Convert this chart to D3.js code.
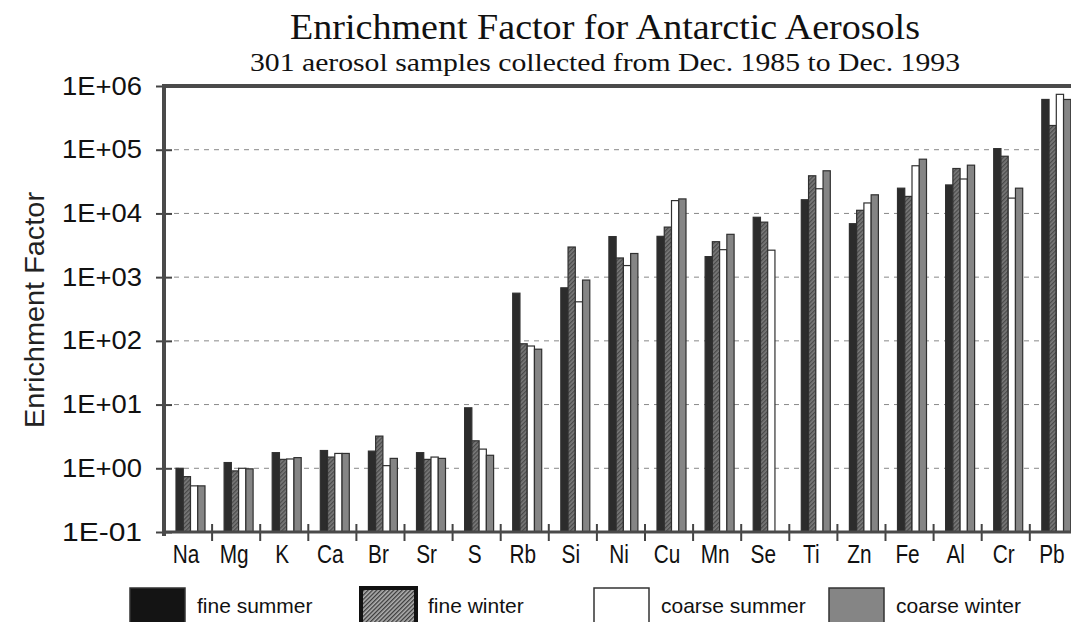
<!DOCTYPE html>
<html>
<head>
<meta charset="utf-8">
<script src="https://cdn.jsdelivr.net/npm/d3@7"></script>
<style>
  body { margin: 0; background: #fff; }
  svg { display: block; }
</style>
</head>
<body>
<svg class="ef" width="1071" height="622"></svg>
<script>
// elements along the x axis
const elements = ['Na', 'Mg', 'K', 'Ca', 'Br', 'Sr', 'S', 'Rb', 'Si', 'Ni', 'Cu', 'Mn', 'Se', 'Ti', 'Zn', 'Fe', 'Al', 'Cr', 'Pb']
const seriesNames = ['fine summer', 'fine winter', 'coarse summer', 'coarse winter']
const yTicks = [1e-1, 1e0, 1e1, 1e2, 1e3, 1e4, 1e5, 1e6]
const yTickLabels = ['1E-01', '1E+00', '1E+01', '1E+02', '1E+03', '1E+04', '1E+05', '1E+06']

// values (null = no bar)
const fineSummer = [1.0, 1.23, 1.76, 1.9, 1.86, 1.76, 8.9, 560, 680, 4330, 4370, 2100, 8700, 16400, 6900, 24900, 28000, 104000, 615000]
const fineWinter = [0.74, 0.91, 1.38, 1.5, 3.2, 1.38, 2.7, 90, 2970, 2000, 6100, 3600, 7300, 39000, 11200, 18500, 50700, 79000, 240000]
const coarseSummer = [0.53, 1.0, 1.4, 1.71, 1.1, 1.5, 2.0, 83, 410, 1520, 15900, 2700, 2650, 24400, 14600, 56000, 34700, 17400, 740000]
const coarseWinter = [0.53, 0.98, 1.47, 1.71, 1.43, 1.43, 1.6, 74, 900, 2350, 16900, 4700, null, 46700, 19600, 71000, 57200, 24900, 615000]

const svg = d3.select('.ef')
const plot = { left: 164, top: 86, bottom: 532, bandW: 48.1 }

const defs = svg.append('defs')
const makeHatch = (id, bg, fg) => {
    const p = defs.append('pattern')
        .attr('id', id)
        .attr('patternUnits', 'userSpaceOnUse')
        .attr('width', 3).attr('height', 3)
        .attr('patternTransform', 'rotate(45)')
    p.append('rect').attr('width', 3).attr('height', 3).attr('fill', bg)
    p.append('rect').attr('width', 1.3).attr('height', 3).attr('fill', fg)
}
makeHatch('hatch', '#7a7a7a', '#4a4a4a')
makeHatch('hatchLeg', '#b0b0b0', '#3a3a3a')

const fills = ['#2c2c2c', 'url(#hatch)', '#ffffff', '#858585']
const legFills = ['#141414', 'url(#hatchLeg)', '#ffffff', '#858585']

const rows = elements.map((e, i) => ({
    name: e,
    vals: [fineSummer[i], fineWinter[i], coarseSummer[i], coarseWinter[i]]
}))

const x = d3.scaleBand()
    .domain(elements)
    .range([plot.left, plot.left + plot.bandW * elements.length])
const xs = d3.scaleBand()
    .domain(d3.range(4))
    .range([12, 41])
const y = d3.scaleLog()
    .domain([1e-1, 1e6])
    .range([plot.bottom, plot.top])

// dashed grid
svg.append('g').selectAll('line')
    .data(yTicks.slice(1, -1))
    .enter().append('line')
    .attr('x1', plot.left + 10).attr('x2', 1071)
    .attr('y1', d => y(d)).attr('y2', d => y(d))
    .attr('stroke', '#888')
    .attr('stroke-width', 1)
    .attr('stroke-dasharray', '5,5')

// bars
const groups = svg.append('g').selectAll('g')
    .data(rows)
    .enter().append('g')
    .attr('transform', d => `translate(${x(d.name)},0)`)
groups.selectAll('rect')
    .data(d => d.vals.map((v, k) => ({ v: v, k: k })).filter(b => b.v != null))
    .enter().append('rect')
    .attr('x', b => xs(b.k))
    .attr('width', xs.bandwidth())
    .attr('y', b => y(b.v))
    .attr('height', b => plot.bottom - y(b.v))
    .attr('fill', b => fills[b.k])
    .attr('stroke', '#303030')
    .attr('stroke-width', 1.2)

// y axis
const yAxis = d3.axisLeft(y)
    .tickValues(yTicks)
    .tickFormat((d, i) => yTickLabels[i])
    .tickSize(0)
const gy = svg.append('g')
    .attr('transform', `translate(${plot.left},0)`)
    .call(yAxis)
gy.select('.domain').remove()
gy.selectAll('text')
    .attr('x', -22)
    .attr('fill', '#111')
    .style('font-family', 'Liberation Sans, Arial, sans-serif')
    .style('font-size', '25px')
    .attr('textLength', 80)
    .attr('lengthAdjust', 'spacingAndGlyphs')
gy.selectAll('.tick').append('line')
    .attr('x1', -8).attr('x2', 8)
    .attr('stroke', '#444').attr('stroke-width', 2)

// x axis ticks at category boundaries
svg.append('g').selectAll('line')
    .data(elements)
    .enter().append('line')
    .attr('x1', d => x(d) + x.bandwidth())
    .attr('x2', d => x(d) + x.bandwidth())
    .attr('y1', plot.bottom - 8).attr('y2', plot.bottom + 9)
    .attr('stroke', '#444').attr('stroke-width', 2)

svg.append('g').selectAll('text')
    .data(elements)
    .enter().append('text')
    .attr('transform', d => `translate(${x(d) + x.bandwidth() / 2 - 2},563) scale(0.8,1)`)
    .attr('text-anchor', 'middle')
    .attr('fill', '#111')
    .style('font-family', 'Liberation Sans, Arial, sans-serif')
    .style('font-size', '26px')
    .text(d => d)

// frame
svg.append('line')
    .attr('x1', plot.left - 2).attr('x2', 1071)
    .attr('y1', plot.bottom).attr('y2', plot.bottom)
    .attr('stroke', '#4a4a4a').attr('stroke-width', 3)
svg.append('line')
    .attr('x1', plot.left).attr('x2', plot.left)
    .attr('y1', plot.top - 2).attr('y2', plot.bottom + 4)
    .attr('stroke', '#4a4a4a').attr('stroke-width', 4)
svg.append('line')
    .attr('x1', plot.left - 2).attr('x2', 1071)
    .attr('y1', y(1e6)).attr('y2', y(1e6))
    .attr('stroke', '#4a4a4a').attr('stroke-width', 4)

// titles
svg.append('text')
    .attr('x', 605).attr('y', 39)
    .attr('text-anchor', 'middle')
    .style('font-family', 'Liberation Serif, Times New Roman, serif')
    .style('font-size', '36px')
    .attr('textLength', 630).attr('lengthAdjust', 'spacingAndGlyphs')
    .attr('fill', '#111')
    .text('Enrichment Factor for Antarctic Aerosols')
svg.append('text')
    .attr('x', 605).attr('y', 71)
    .attr('text-anchor', 'middle')
    .style('font-family', 'Liberation Serif, Times New Roman, serif')
    .style('font-size', '26px')
    .attr('textLength', 710).attr('lengthAdjust', 'spacingAndGlyphs')
    .attr('fill', '#111')
    .text('301 aerosol samples collected from Dec. 1985 to Dec. 1993')

svg.append('text')
    .attr('transform', 'translate(44,310) rotate(-90)')
    .attr('text-anchor', 'middle')
    .style('font-family', 'Liberation Sans, Arial, sans-serif')
    .style('font-size', '28px')
    .attr('textLength', 236).attr('lengthAdjust', 'spacingAndGlyphs')
    .attr('fill', '#222')
    .text('Enrichment Factor')

// legend
const legX = [130, 361, 594, 829]
const leg = svg.append('g').selectAll('g')
    .data(seriesNames)
    .enter().append('g')
    .attr('transform', (d, i) => `translate(${legX[i]},588)`)
leg.append('rect')
    .attr('width', 55).attr('height', 40)
    .attr('fill', (d, i) => legFills[i])
    .attr('stroke', (d, i) => i == 1 ? '#111' : '#333')
    .attr('stroke-width', (d, i) => i == 1 ? 4 : 1.5)
leg.append('text')
    .attr('x', 67)
    .attr('y', 25)
    .style('font-family', 'Liberation Sans, Arial, sans-serif')
    .style('font-size', '21px')
    .attr('fill', '#111')
    .text(d => d)
</script>
</body>
</html>
